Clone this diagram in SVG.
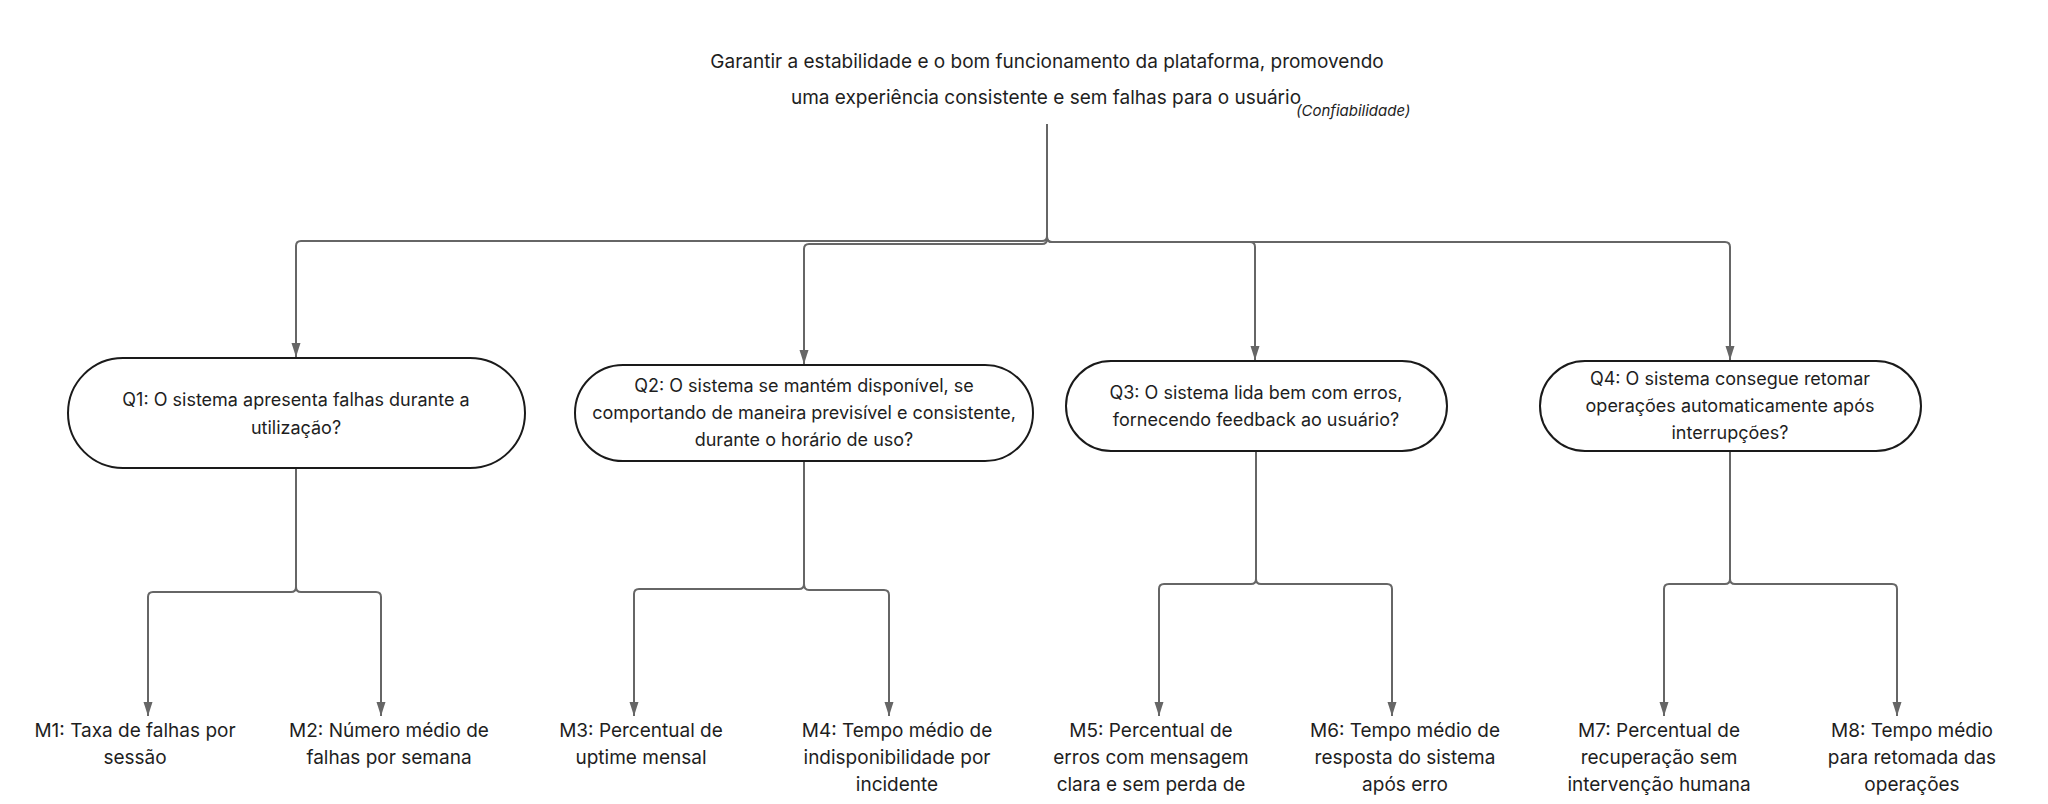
<svg xmlns="http://www.w3.org/2000/svg" width="2048" height="804" viewBox="0 0 2048 804">
<defs>
<marker id="arr" markerUnits="userSpaceOnUse" markerWidth="14" markerHeight="10" viewBox="0 0 14 10" refX="14" refY="5" orient="auto">
<path d="M0,0.5 L14,5 L0,9.5 z" fill="#666"/>
</marker>
<style>
.t{font-family:Inter,"Noto Sans","Liberation Sans",sans-serif;font-size:18px;fill:#1e1e1e;text-anchor:middle}
.l{font-size:19px}
.sub{font-family:Inter,"Noto Sans","Liberation Sans",sans-serif;font-size:15px;font-style:italic;fill:#1e1e1e}
.box{fill:#fff;stroke:#1a1a1a;stroke-width:2}
.c{fill:none;stroke:#666;stroke-width:2;marker-end:url(#arr)}
</style>
</defs>
<rect width="2048" height="804" fill="#fff"/>
<g id="connectors">
<path class="c" d="M1047 124 V236 Q1047 241 1042 241 H301 Q296 241 296 246 V357"/>
<path class="c" d="M1047 124 V239 Q1047 244 1042 244 H809 Q804 244 804 249 V364"/>
<path class="c" d="M1047 124 V237 Q1047 242 1052 242 H1250 Q1255 242 1255 247 V360"/>
<path class="c" d="M1047 124 V237 Q1047 242 1052 242 H1725 Q1730 242 1730 247 V360"/>
<path class="c" d="M296 468 V587 Q296 592 291 592 H153 Q148 592 148 597 V716"/>
<path class="c" d="M296 468 V587 Q296 592 301 592 H376 Q381 592 381 597 V716"/>
<path class="c" d="M804 461 V584 Q804 589 799 589 H639 Q634 589 634 594 V716"/>
<path class="c" d="M804 461 V584 Q804 590 809 590 H884 Q889 590 889 595 V716"/>
<path class="c" d="M1256 451 V579 Q1256 584 1251 584 H1164 Q1159 584 1159 589 V716"/>
<path class="c" d="M1256 451 V579 Q1256 584 1261 584 H1387 Q1392 584 1392 589 V716"/>
<path class="c" d="M1730 451 V579 Q1730 584 1725 584 H1669 Q1664 584 1664 589 V716"/>
<path class="c" d="M1730 451 V579 Q1730 584 1735 584 H1892 Q1897 584 1897 589 V716"/>
</g>
<g id="goal">
<text class="t l" x="1047" y="68">Garantir a estabilidade e o bom funcionamento da plataforma, promovendo</text>
<text class="t l" x="1046" y="104">uma experiência consistente e sem falhas para o usuário</text>
<text class="sub" x="1296" y="116">(Confiabilidade)</text>
</g>
<g id="q1">
<rect class="box" x="68" y="358" width="457" height="110" rx="55"/>
<text class="t" x="296" y="406">Q1: O sistema apresenta falhas durante a</text>
<text class="t" x="296" y="434">utilização?</text>
</g>
<g id="q2">
<rect class="box" x="575" y="365" width="458" height="96" rx="48"/>
<text class="t" x="804" y="392">Q2: O sistema se mantém disponível, se</text>
<text class="t" x="804" y="419">comportando de maneira previsível e consistente,</text>
<text class="t" x="804" y="446">durante o horário de uso?</text>
</g>
<g id="q3">
<rect class="box" x="1066" y="361" width="381" height="90" rx="45"/>
<text class="t" x="1256" y="399">Q3: O sistema lida bem com erros,</text>
<text class="t" x="1256" y="426">fornecendo feedback ao usuário?</text>
</g>
<g id="q4">
<rect class="box" x="1540" y="361" width="381" height="90" rx="45"/>
<text class="t" x="1730" y="385">Q4: O sistema consegue retomar</text>
<text class="t" x="1730" y="412">operações automaticamente após</text>
<text class="t" x="1730" y="439">interrupções?</text>
</g>
<g id="m1">
<text class="t l" x="135" y="737">M1: Taxa de falhas por</text>
<text class="t l" x="135" y="764">sessão</text>
</g>
<g id="m2">
<text class="t l" x="389" y="737">M2: Número médio de</text>
<text class="t l" x="389" y="764">falhas por semana</text>
</g>
<g id="m3">
<text class="t l" x="641" y="737">M3: Percentual de</text>
<text class="t l" x="641" y="764">uptime mensal</text>
</g>
<g id="m4">
<text class="t l" x="897" y="737">M4: Tempo médio de</text>
<text class="t l" x="897" y="764">indisponibilidade por</text>
<text class="t l" x="897" y="791">incidente</text>
</g>
<g id="m5">
<text class="t l" x="1151" y="737">M5: Percentual de</text>
<text class="t l" x="1151" y="764">erros com mensagem</text>
<text class="t l" x="1151" y="791">clara e sem perda de</text>
</g>
<g id="m6">
<text class="t l" x="1405" y="737">M6: Tempo médio de</text>
<text class="t l" x="1405" y="764">resposta do sistema</text>
<text class="t l" x="1405" y="791">após erro</text>
</g>
<g id="m7">
<text class="t l" x="1659" y="737">M7: Percentual de</text>
<text class="t l" x="1659" y="764">recuperação sem</text>
<text class="t l" x="1659" y="791">intervenção humana</text>
</g>
<g id="m8">
<text class="t l" x="1912" y="737">M8: Tempo médio</text>
<text class="t l" x="1912" y="764">para retomada das</text>
<text class="t l" x="1912" y="791">operações</text>
</g>
</svg>
